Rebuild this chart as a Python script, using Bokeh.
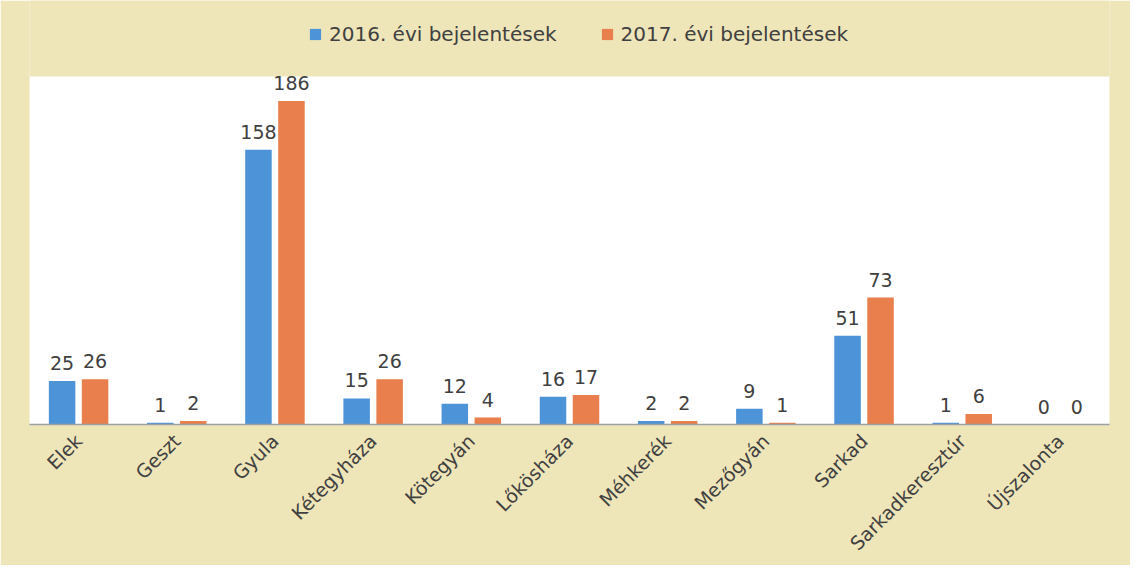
from bokeh.plotting import figure
from bokeh.models import ColumnDataSource, FactorRange, Range1d, Legend, LegendItem, BoxAnnotation
from bokeh.transform import dodge
from bokeh.core.properties import value
from bokeh.embed import file_html
from bokeh.resources import INLINE
import math

categories = ["Elek", "Geszt", "Gyula", "Kétegyháza", "Kötegyán", "Lőkösháza",
              "Méhkerék", "Mezőgyán", "Sarkad", "Sarkadkeresztúr", "Újszalonta"]
y2016 = [25, 1, 158, 15, 12, 16, 2, 9, 51, 1, 0]
y2017 = [26, 2, 186, 26, 4, 17, 2, 1, 73, 6, 0]
series = ["2016. évi bejelentések", "2017. évi bejelentések"]

BLUE = "#4C93D8"
ORANGE = "#E97F4C"
PARCH = "#EEE5B9"
TXT = "#404040"
FONT = "DejaVu Sans"

src = ColumnDataSource(dict(cat=categories, a=y2016, b=y2017,
                            la=[str(v) for v in y2016], lb=[str(v) for v in y2017]))

# frame spans from top of figure to the baseline; white plot area is 0..200
p = figure(width=1130, height=565, x_range=FactorRange(*categories), y_range=Range1d(0, 243.75),
           output_backend="svg", toolbar_location=None,
           min_border_left=29, min_border_right=21, min_border_top=0, min_border_bottom=136)
p.border_fill_color = PARCH
p.background_fill_color = PARCH
p.outline_line_color = None
p.xgrid.grid_line_color = None
p.ygrid.grid_line_color = None
p.yaxis.visible = False

p.add_layout(BoxAnnotation(bottom=0, top=200, fill_color="white", fill_alpha=1,
                           line_color=None, level="underlay"))

p.x_range.range_padding = 0
p.x_range.group_padding = 0

r1 = p.vbar(x=dodge("cat", -0.168, range=p.x_range), top="a", width=0.27, source=src,
            fill_color=BLUE, line_color=None)
r2 = p.vbar(x=dodge("cat", 0.168, range=p.x_range), top="b", width=0.27, source=src,
            fill_color=ORANGE, line_color=None)

p.text(x=dodge("cat", -0.168, range=p.x_range), y="a", text="la", source=src,
       text_align="center", text_baseline="alphabetic", y_offset=-18,
       text_font=value(FONT), text_font_size="19px", text_color=TXT)
p.text(x=dodge("cat", 0.168, range=p.x_range), y="b", text="lb", source=src,
       text_align="center", text_baseline="alphabetic", y_offset=-18,
       text_font=value(FONT), text_font_size="19px", text_color=TXT)

ax = p.xaxis[0]
ax.major_label_orientation = math.pi / 4
ax.major_label_text_font = FONT
ax.major_label_text_font_size = "19px"
ax.major_label_text_color = TXT
ax.axis_line_color = "#9AA0A6"
ax.axis_line_width = 1.5
ax.major_tick_line_color = None
ax.minor_tick_line_color = None
ax.major_label_standoff = 7

legend = Legend(items=[LegendItem(label=series[0], renderers=[r1]),
                       LegendItem(label=series[1], renderers=[r2])],
                orientation="horizontal", location=(279, 378),
                label_text_font=FONT, label_text_font_size="20px",
                label_text_color=TXT, glyph_width=14, glyph_height=14, spacing=43,
                label_standoff=7, background_fill_alpha=0, border_line_alpha=0,
                padding=0, margin=0)
p.add_layout(legend)

open("out.html", "w").write(file_html(p, INLINE))
